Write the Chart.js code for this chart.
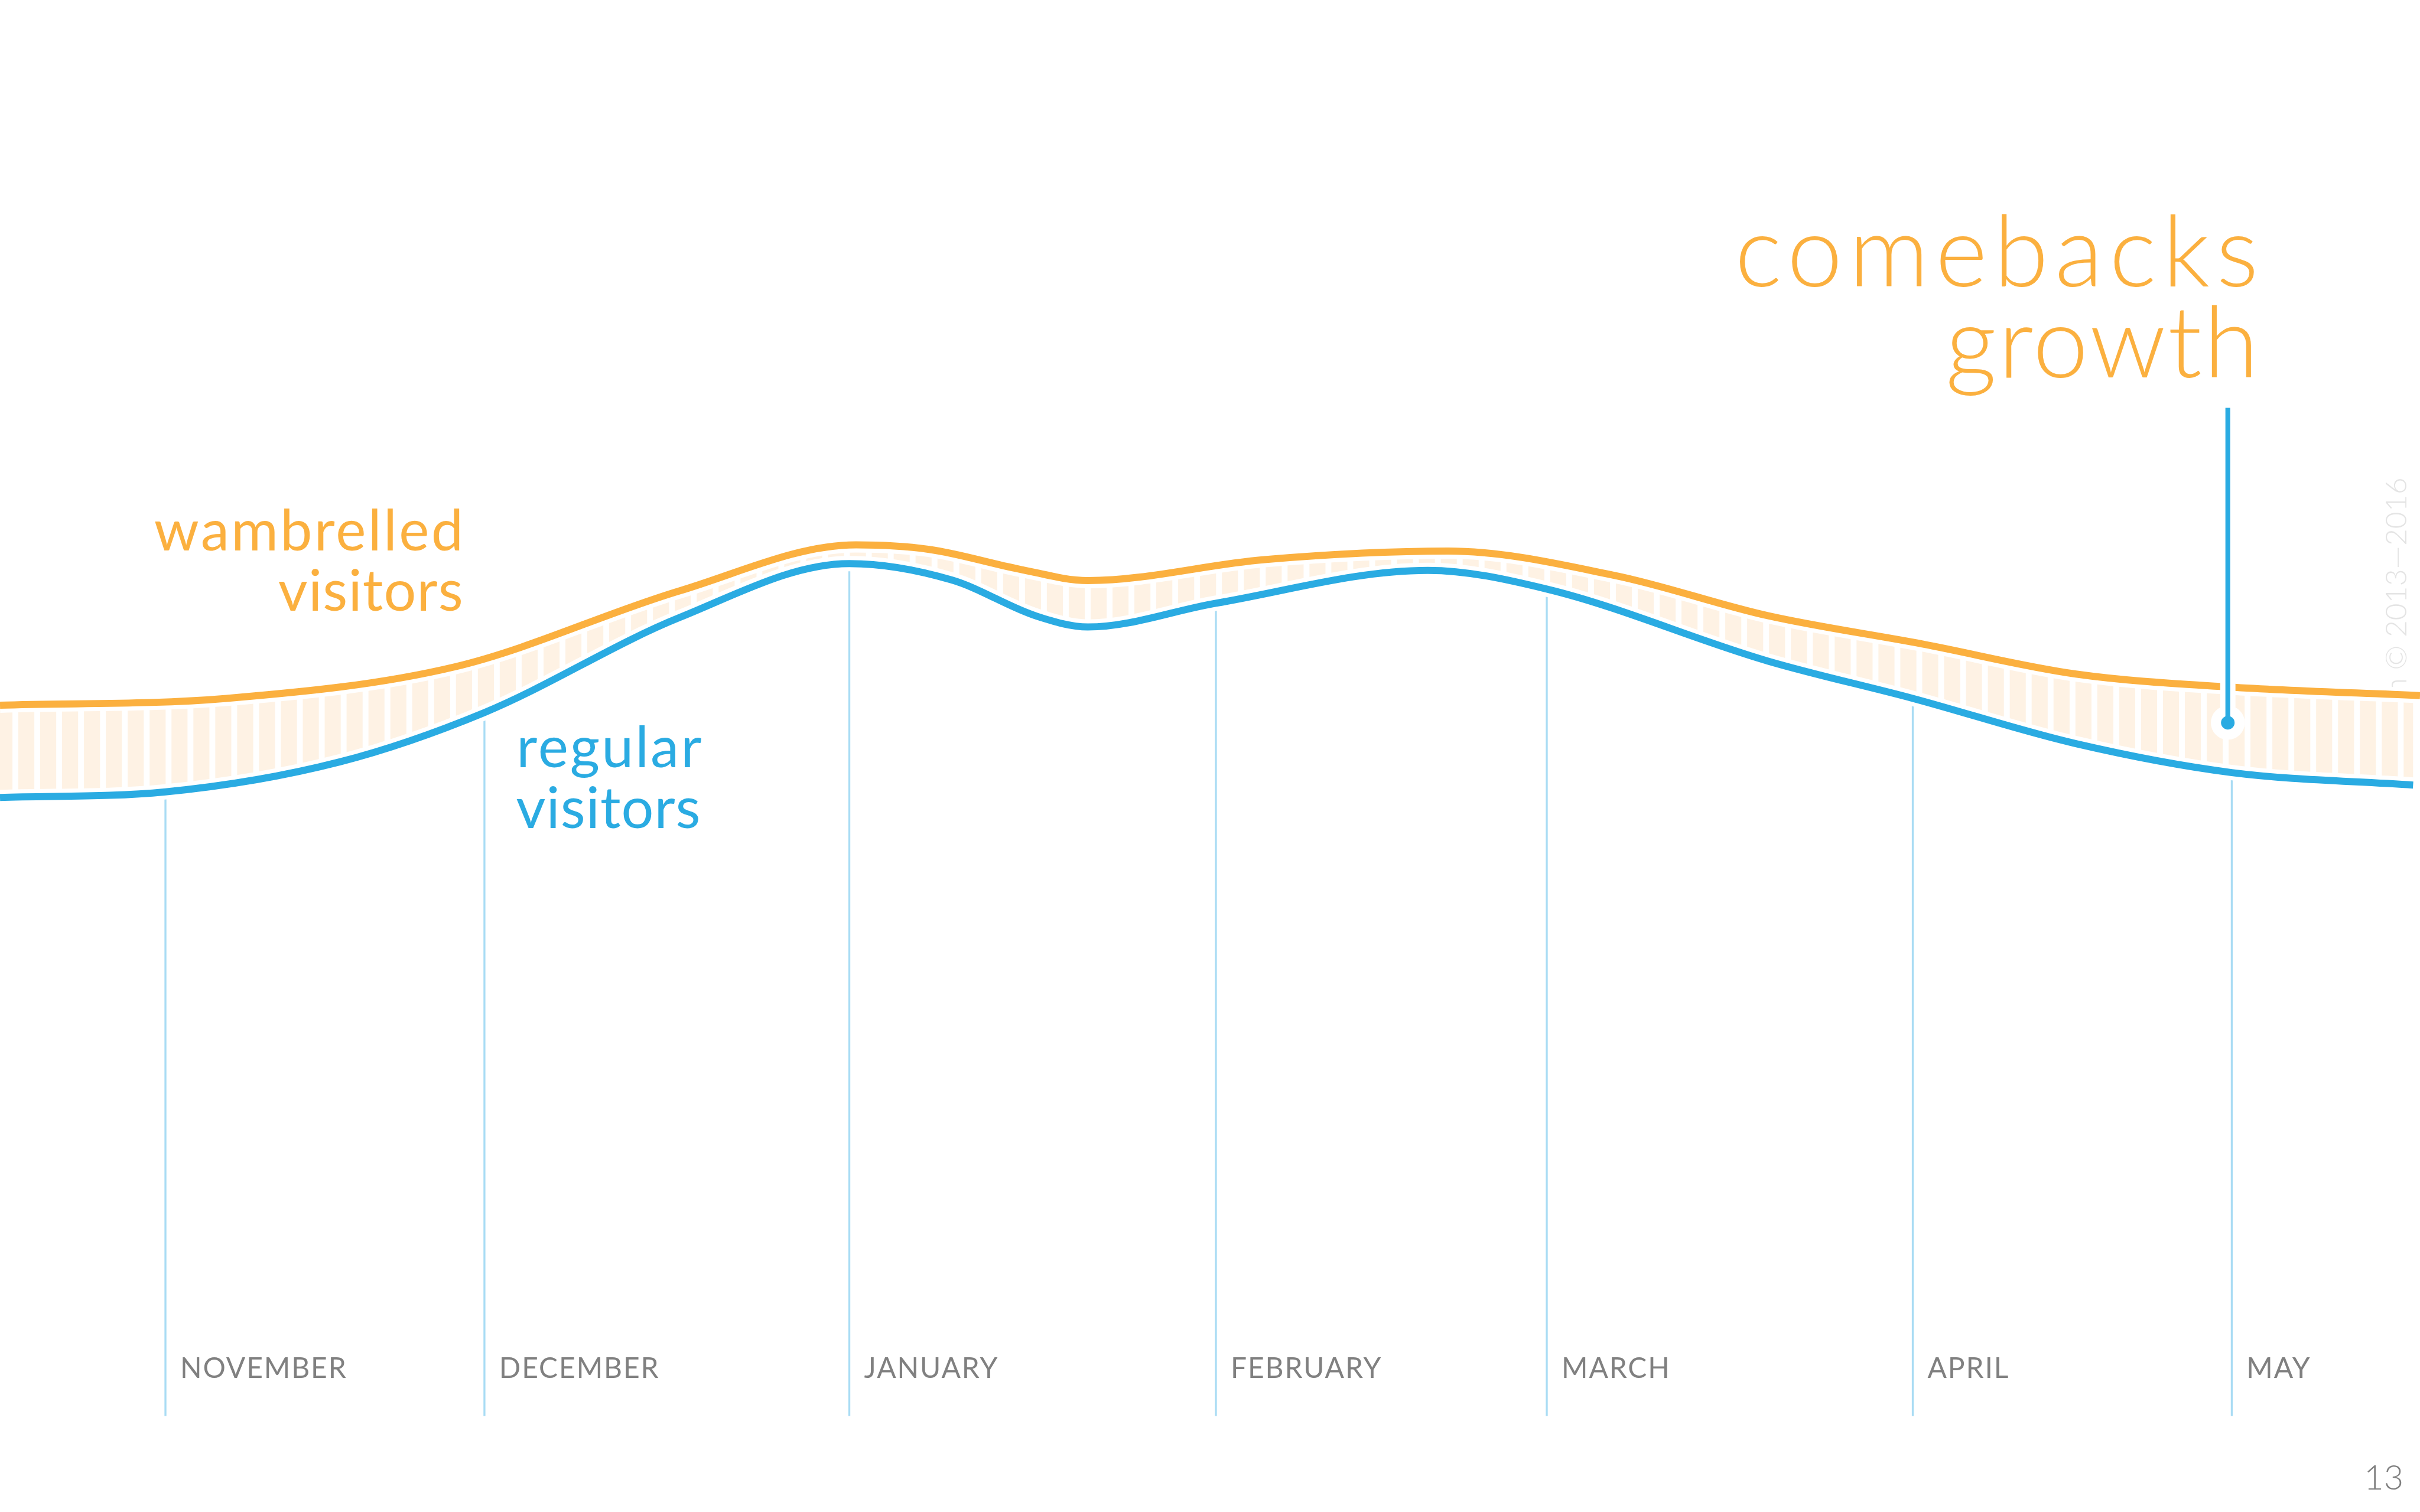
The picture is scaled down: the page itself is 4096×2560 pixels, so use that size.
<!DOCTYPE html>
<html><head><meta charset="utf-8">
<script src="https://cdn.jsdelivr.net/npm/chart.js@4.4.0/dist/chart.umd.min.js"></script>
<style>html,body{margin:0;padding:0;background:#fff;overflow:hidden}canvas{display:block}</style>
</head><body>
<canvas id="c" width="4096" height="2560"></canvas>
<script>
// ---------- DATA ----------
const monthLabels = ['NOVEMBER','DECEMBER','JANUARY','FEBRUARY','MARCH','APRIL','MAY'];
const monthPos    = [14.6, 42.75, 74.95, 107.3, 136.5, 168.8, 196.95];

const regularX = [0, 14.6, 30, 42.75, 60, 74.95, 84, 91.5, 96, 107.3, 126, 136.5, 156, 168.8, 183.2, 196.95, 212.95];
const regularY = [109.2, 110.2, 115.5, 124.2, 141.0, 150.5, 147.6, 141.2, 139.3, 143.5, 149.3, 146.0, 133.3, 126.7, 118.7, 113.6, 111.4];

const wambrelledX = [0, 20, 40.2, 60, 75.55, 82, 90, 96, 111.6, 127.8, 142.5, 156, 169.65, 183.2, 196.75, 213.56];
const wambrelledY = [125.5, 126.7, 132.3, 145.7, 153.8, 153.0, 149.5, 147.5, 151.2, 152.7, 148.4, 141.3, 136.3, 131.0, 128.7, 127.2];

const calloutX = [196.6];      // comebacks growth marker
const calloutY = [122.4];
const calloutTop = [178];

const pageNumber = '13';
const watermark = 'm \u00A9 2013\u20142016';

// ---------- STYLE ----------
const S = 0.959;
const ORANGE = '#fbb03f', BLUE = '#2aabe2', STRIPE = '#fef2e4', GRID = '#a9dcf4', GRAY = '#808080';
const FONT = 'Lato, "Open Sans", sans-serif';

function makeStripes(ctx){
  const N = 25, P = 38.62*S, W = Math.round(P*N);
  const pc = document.createElement('canvas'); pc.width = W; pc.height = 4;
  const g = pc.getContext('2d');
  g.fillStyle = STRIPE; g.fillRect(0,0,W,4);
  g.fillStyle = '#ffffff';
  const per = W/N;
  for (let i=0;i<N;i++) g.fillRect(i*per + 22*S, 0, 10.3*S, 4);
  return ctx.createPattern(pc,'repeat');
}

function fitText(ctx, text, sizeFull, weight, color, leftFull, rightFull, baseFull){
  ctx.save();
  ctx.font = weight + ' ' + (sizeFull*S) + 'px ' + FONT;
  ctx.textAlign = 'left'; ctx.textBaseline = 'alphabetic';
  if ('letterSpacing' in ctx) ctx.letterSpacing = '0px';
  const m = ctx.measureText(text);
  const inkL = -m.actualBoundingBoxLeft, inkR = m.actualBoundingBoxRight;
  const w0 = inkR - inkL;
  const target = (rightFull - leftFull)*S;
  let ls = (target - w0)/(text.length-1);
  if ('letterSpacing' in ctx) ctx.letterSpacing = ls + 'px'; else ls = 0;
  ctx.fillStyle = color;
  ctx.fillText(text, leftFull*S - inkL, baseFull*S);
  ctx.restore();
}

const canvas = document.getElementById('c');
const ctx0 = canvas.getContext('2d');
const stripes = makeStripes(ctx0);

const regularData = regularX.map((x,i)=>({x, y: regularY[i]}));
const wambData = wambrelledX.map((x,i)=>({x, y: wambrelledY[i]}));
const monthBars = monthPos.map(m => ({x: m, y: [0, regularY[regularX.indexOf(m)]]}));

const lineCommon = {pointRadius:0, pointHoverRadius:0, tension:0.4, cubicInterpolationMode:'monotone', borderCapStyle:'butt'};

const textPlugin = {
  id:'texts',
  beforeDatasetsDraw(chart){
    const ctx = chart.ctx;
    ctx.save();
    ctx.translate(4247*S, 843*S);
    ctx.rotate(-Math.PI/2);
    ctx.font = '300 ' + (52*S) + 'px ' + FONT;
    ctx.fillStyle = '#e4e4e4';
    ctx.textAlign = 'right'; ctx.textBaseline = 'alphabetic';
    ctx.fillText(watermark, 0, 0);
    ctx.restore();
  },
  afterDatasetsDraw(chart){
    const ctx = chart.ctx, xs = chart.scales.x, ys = chart.scales.y;
    // callout marker
    for (let i=0;i<calloutX.length;i++){
      const ax = xs.getPixelForValue(calloutX[i]);
      const ay = ys.getPixelForValue(calloutY[i]);
      const at = ys.getPixelForValue(calloutTop[i]);
      ctx.save();
      ctx.strokeStyle = '#fff'; ctx.lineWidth = 27*S;
      ctx.beginPath(); ctx.moveTo(ax, at); ctx.lineTo(ax, ay); ctx.stroke();
      ctx.fillStyle = '#fff'; ctx.beginPath(); ctx.arc(ax, ay, 30*S, 0, Math.PI*2); ctx.fill();
      ctx.strokeStyle = BLUE; ctx.lineWidth = 8.5*S;
      ctx.beginPath(); ctx.moveTo(ax, at); ctx.lineTo(ax, ay); ctx.stroke();
      ctx.fillStyle = BLUE; ctx.beginPath(); ctx.arc(ax, ay, 12*S, 0, Math.PI*2); ctx.fill();
      ctx.restore();
    }
    // month labels
    ctx.save();
    ctx.font = '400 ' + (50*S) + 'px ' + FONT;
    ctx.fillStyle = GRAY; ctx.textAlign='left'; ctx.textBaseline='alphabetic';
    if ('letterSpacing' in ctx) ctx.letterSpacing = (2*S) + 'px';
    monthLabels.forEach((t,i)=>{
      ctx.fillText(t, xs.getPixelForValue(monthPos[i]) + 26*S, 2433*S);
    });
    ctx.restore();
    // series labels
    fitText(ctx, 'wambrelled', 101, 400, ORANGE, 273, 811, 972);
    fitText(ctx, 'visitors', 101, 400, ORANGE, 492, 814, 1078);
    fitText(ctx, 'regular', 101, 400, BLUE, 918, 1238, 1355);
    fitText(ctx, 'visitors', 101, 400, BLUE, 912, 1233, 1462);
    fitText(ctx, 'comebacks', 176, 300, ORANGE, 3070, 3978, 506);
    fitText(ctx, 'growth', 176, 300, ORANGE, 3440, 3973, 666);
    // page number
    ctx.save();
    ctx.font = '300 ' + (60*S) + 'px ' + FONT;
    ctx.fillStyle = GRAY; ctx.textAlign='right'; ctx.textBaseline='alphabetic';
    ctx.fillText(pageNumber, 4242*S, 2630*S);
    ctx.restore();
  }
};

new Chart(canvas, {
  type: 'line',
  data: {
    datasets: [
      Object.assign({label:'wambrelled visitors', data: wambData, borderColor: ORANGE, borderWidth: 12.5*S,
        fill: {target: 1}, backgroundColor: stripes, order: 0}, lineCommon),
      Object.assign({label:'regular visitors', data: regularData, borderColor: BLUE, borderWidth: 12.5*S,
        fill: false, order: 1}, lineCommon),
      Object.assign({label:'halo w', data: wambData, borderColor: '#ffffff', borderWidth: 27*S, fill:false, order: 2}, lineCommon),
      Object.assign({label:'halo r', data: regularData, borderColor: '#ffffff', borderWidth: 27*S, fill:false, order: 3}, lineCommon),
      {type:'bar', label:'months', data: monthBars, backgroundColor: GRID, borderWidth: 0, barThickness: 2.8*S, order: 4}
    ]
  },
  options: {
    responsive: false, animation: false, devicePixelRatio: 1,
    layout: {padding: {left:0, right:0, top:0, bottom: 2560 - 2500*S}},
    scales: {
      x: {type:'linear', min:0, max:213.56, display:false, offset:false},
      y: {type:'linear', min:0, max:250, display:false}
    },
    plugins: {
      legend: {display:false}, tooltip: {enabled:false},
      filler: {propagate:false, drawTime:'beforeDatasetsDraw'}
    },
    events: []
  },
  plugins: [textPlugin]
});
</script>
</body></html>
